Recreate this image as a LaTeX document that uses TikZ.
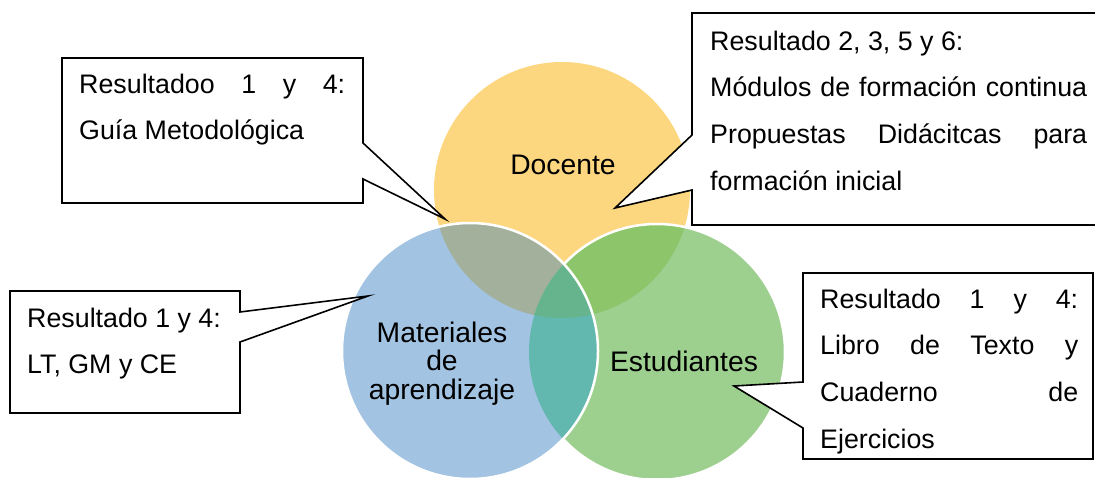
\documentclass[tikz,border=0pt]{standalone}
\usepackage{fontspec}
\setmainfont{Liberation Sans}
\usepackage{tikz}

\definecolor{docfill}{HTML}{FDD77F}
\definecolor{matfill}{HTML}{A3C3E3}
\definecolor{estfill}{HTML}{9DD08F}
\definecolor{docmatfill}{HTML}{A3B09C}
\definecolor{docestfill}{HTML}{8CC56A}
\definecolor{matestfill}{HTML}{62B8AE}
\definecolor{allfill}{HTML}{66B48E}

\newcommand\vennr{128}

\tikzset{
  ring/.style={draw=white, line width=2.5pt},
  callbox/.style={draw=black, fill=white, line width=1.6pt, line join=miter},
  calltext/.style={anchor=north west, inner sep=0pt, align=left, font=\fontsize{26.8}{46.7}\selectfont},
  venntext/.style={inner sep=0pt, align=center, font=\fontsize{28.3}{28.5}\selectfont},
}

\begin{document}
\begin{tikzpicture}[x=1pt,y=-1pt]
\useasboundingbox (0,0) rectangle (1095,477);
\coordinate (cD) at (562,190);
\coordinate (cM) at (470,351);
\coordinate (cE) at (657,352);

\fill[docfill] (cD) circle[radius=\vennr];
\fill[estfill] (cE) circle[radius=\vennr];
\begin{scope}
\clip (cD) circle[radius=\vennr];
\fill[docestfill] (cE) circle[radius=\vennr];
\end{scope}
\path[ring] (cE) circle[radius=\vennr];
\fill[matfill] (cM) circle[radius=\vennr];
\begin{scope}
\clip (cM) circle[radius=\vennr];
\fill[docmatfill] (cD) circle[radius=\vennr];
\fill[matestfill] (cE) circle[radius=\vennr];
\clip (cD) circle[radius=\vennr];
\fill[allfill] (cE) circle[radius=\vennr];
\end{scope}
\path[ring] (cM) circle[radius=\vennr];

\node[venntext, anchor=base] (docente) at (563,174) {Docente};
\node[venntext, anchor=base] (estudiantes) at (684,371) {Estudiantes};
\node[venntext, anchor=north] (materiales) at (442,321.5) {Materiales\\de\\aprendizaje};

\coordinate (tipA) at (445,219);
\draw[callbox] (62,58) -- (363,58) -- (363,143) -- (tipA) -- (363,179) -- (363,203) -- (62,203) -- cycle;
\node[calltext] (resA) at (79,73.5) {\makebox[266pt][s]{Resultadoo 1 y 4:}\\Guía Metodológica};

\coordinate (tipB) at (615,208);
\draw[callbox] (692,13) -- (1110,13) -- (1110,225) -- (692,225) -- (692,190) -- (tipB) -- (692,135) -- cycle;
\node[calltext] (resB) at (710,30.5) {Resultado 2, 3, 5 y 6:\\\makebox[377pt][s]{Módulos de formación continua}\\\makebox[377pt][s]{Propuestas Didácitcas para}\\formación inicial};

\coordinate (tipC) at (368,296);
\draw[callbox] (10,291) -- (240,291) -- (240,312) -- (tipC) -- (240,342) -- (240,413) -- (10,413) -- cycle;
\node[calltext] (resC) at (27,307.5) {Resultado 1 y 4:\\LT, GM y CE};

\coordinate (tipD) at (734,386);
\draw[callbox] (803,273) -- (1093,273) -- (1093,459) -- (803,459) -- (803,428) -- (tipD) -- (803,382) -- cycle;
\node[calltext] (resD) at (820,288.5) {\makebox[258pt][s]{Resultado 1 y 4:}\\\makebox[258pt][s]{Libro de Texto y}\\\makebox[258pt][s]{Cuaderno de}\\Ejercicios};
\end{tikzpicture}
\end{document}
